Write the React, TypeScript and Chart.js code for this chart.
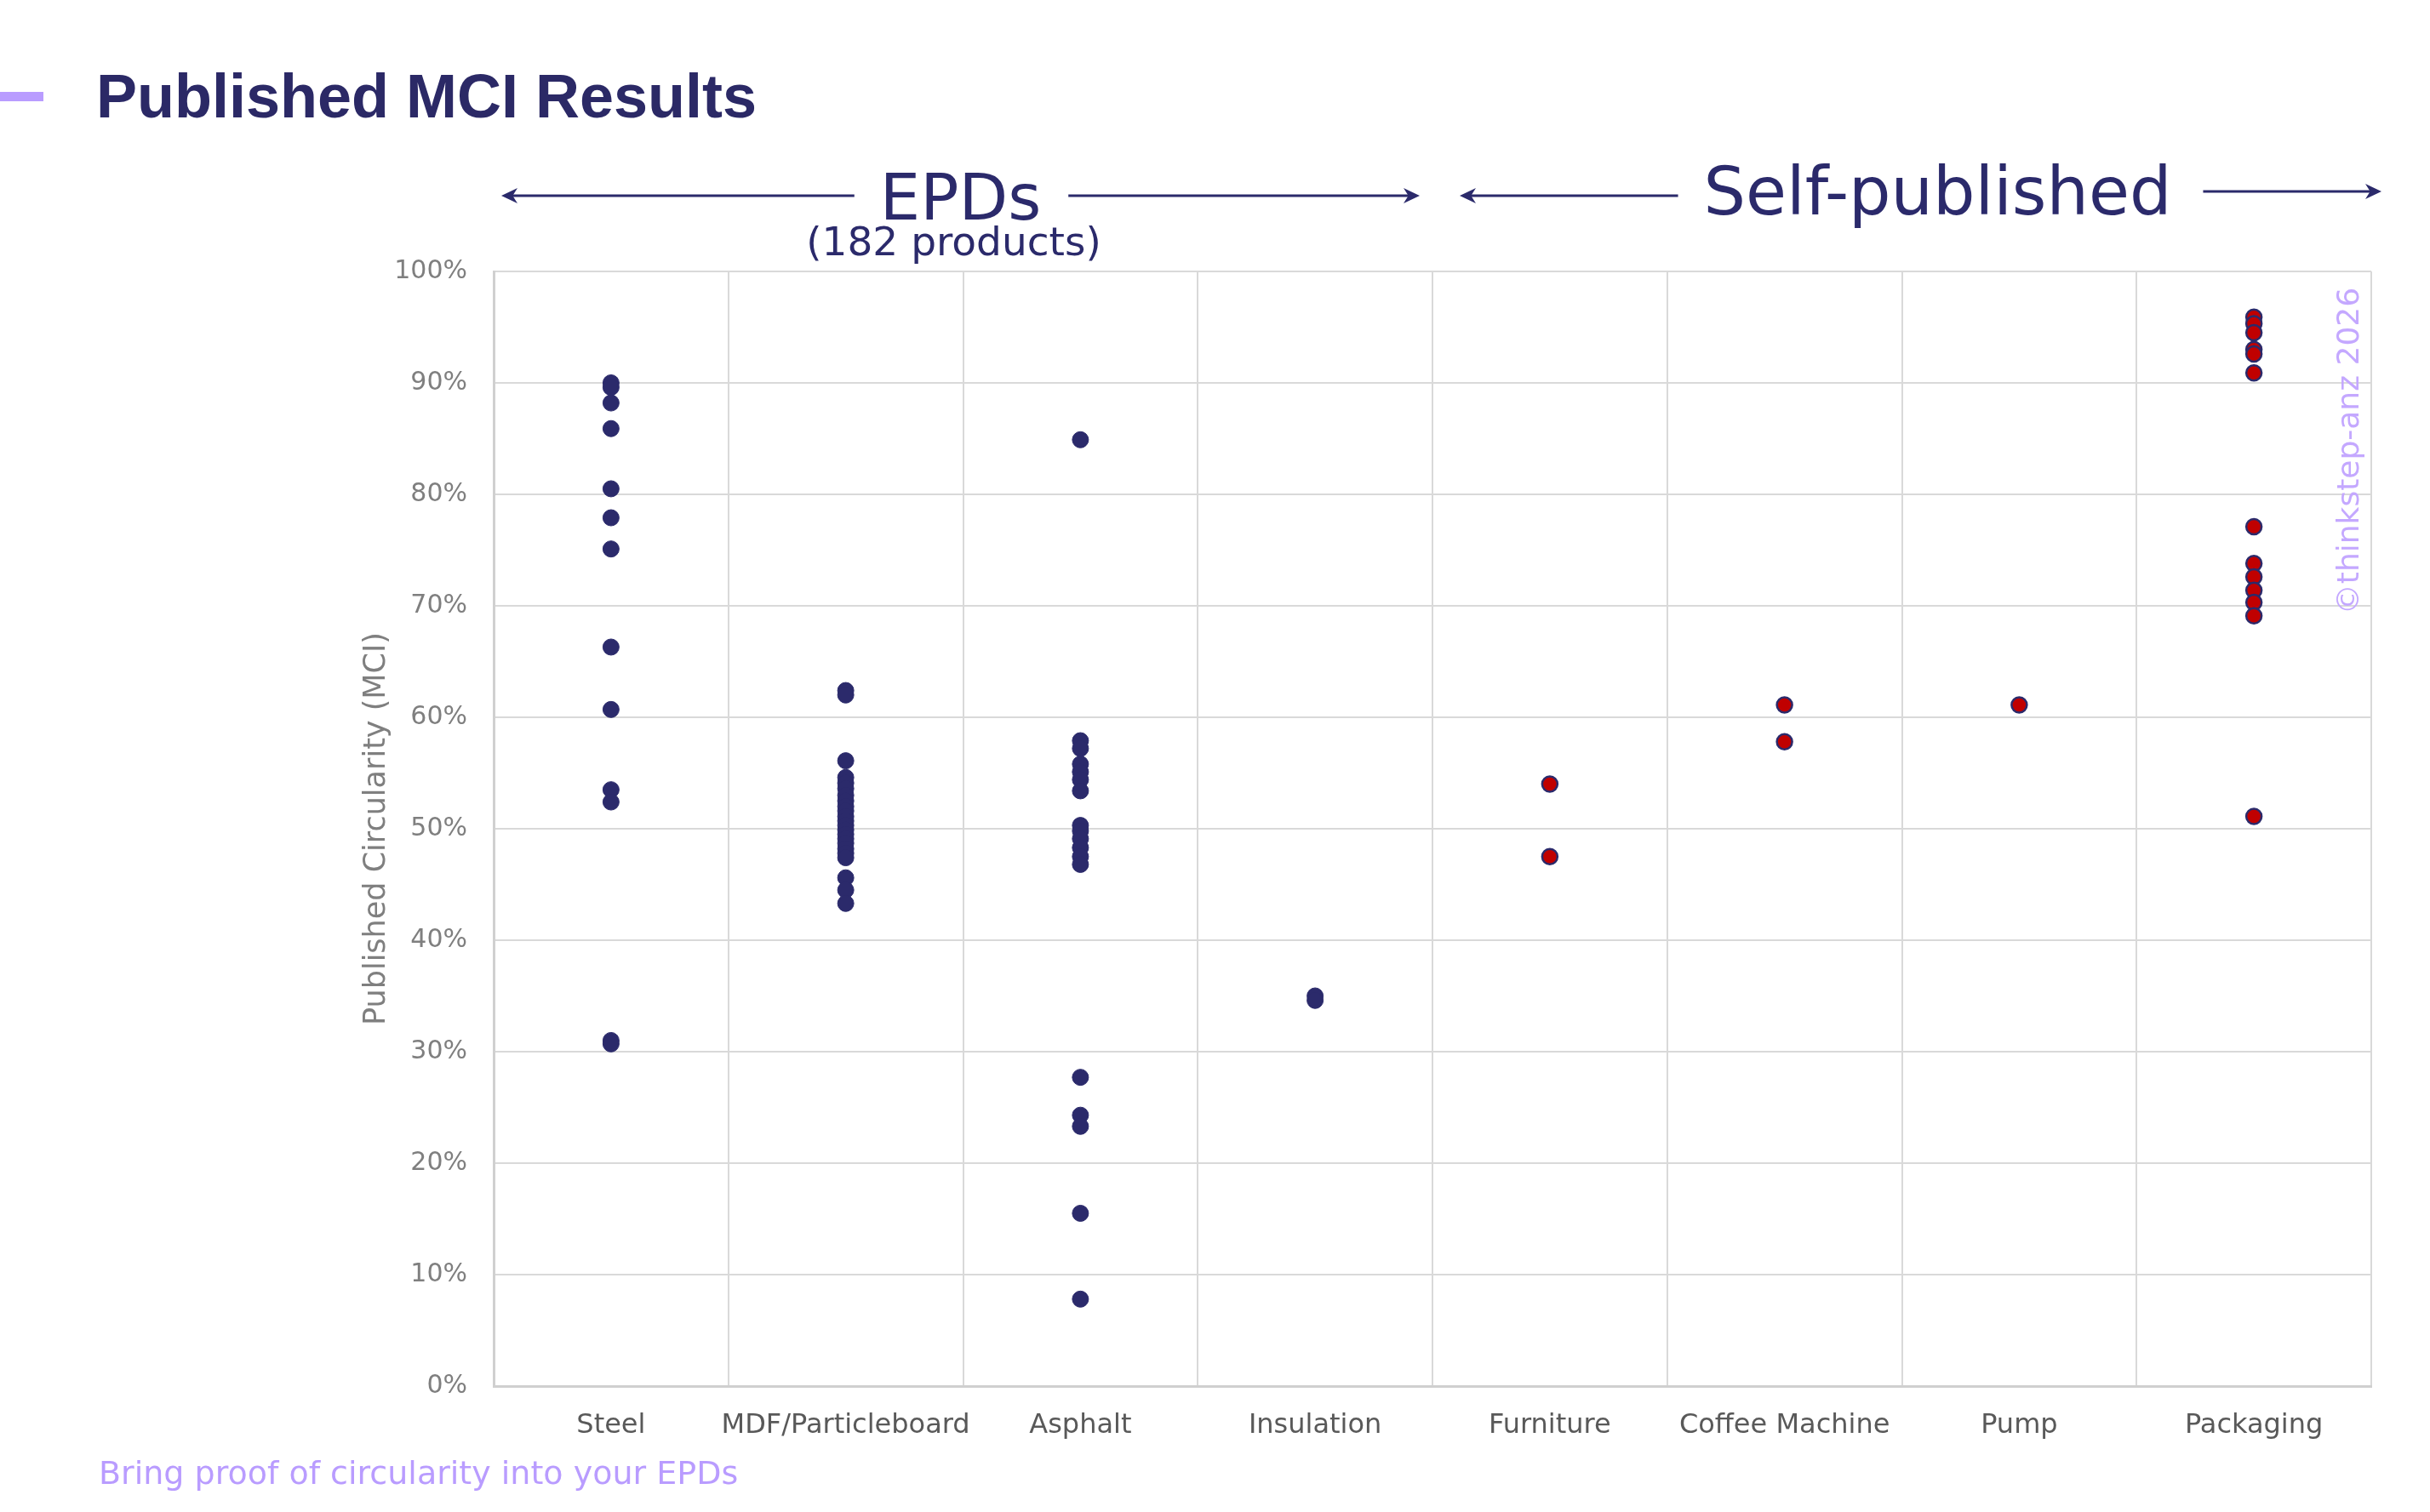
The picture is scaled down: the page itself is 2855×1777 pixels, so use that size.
import React, { useEffect, useRef } from "react";
import { Chart, registerables } from "chart.js";

Chart.register(...registerables);

// ---- data ----
const categories = ["Steel", "MDF/Particleboard", "Asphalt", "Insulation", "Furniture", "Coffee Machine", "Pump", "Packaging"];

// EPD-based categories (MCI, %)
const steelValues = [90.0, 89.6, 88.2, 85.9, 80.5, 77.9, 75.1, 66.3, 60.7, 53.5, 52.4, 31.0, 30.7];
const mdfValues = [62.4, 62.0, 56.1, 54.6, 54.1, 53.6, 53.0, 52.5, 52.0, 51.6, 51.1, 50.7, 50.3, 49.9, 49.5, 49.1, 48.7, 48.2, 47.8, 47.4, 45.6, 44.5, 43.3];
const asphaltValues = [84.9, 57.9, 57.2, 55.8, 55.1, 54.4, 53.4, 50.3, 49.8, 49.1, 48.3, 47.5, 46.8, 27.7, 24.3, 23.3, 15.5, 7.8];
const insulationValues = [35.0, 34.6];

// Self-published categories (MCI, %)
const furnitureValues = [54.0, 47.5];
const coffeeMachineValues = [61.1, 57.8];
const pumpValues = [61.1];
const packagingValues = [95.9, 95.3, 94.5, 93.0, 92.6, 90.9, 77.1, 73.8, 72.6, 71.4, 70.3, 69.1, 51.1];

const yTickStep = 10;
const yMin = 0;
const yMax = 100;

const epdHeader = "EPDs";
const epdSubHeader = "(182 products)";
const selfHeader = "Self-published";
const watermark = "\u00A9thinkstep-anz 2026";

// ---- styles ----
const NAVY = "#2b2a6b";
const RED = "#c00000";
const GRID = "#d9d9d9";
const FONT = "'DejaVu Sans', sans-serif";

const toPoints = (cat: string, vals: number[]) => vals.map((v) => ({ x: cat, y: v }));

const epdPoints = [
  ...toPoints(categories[0], steelValues),
  ...toPoints(categories[1], mdfValues),
  ...toPoints(categories[2], asphaltValues),
  ...toPoints(categories[3], insulationValues),
];
const selfPoints = [
  ...toPoints(categories[4], furnitureValues),
  ...toPoints(categories[5], coffeeMachineValues),
  ...toPoints(categories[6], pumpValues),
  ...toPoints(categories[7], packagingValues),
];

function drawArrowSeg(ctx: CanvasRenderingContext2D, xFrom: number, xTip: number, y: number) {
  const dir = xTip > xFrom ? 1 : -1;
  const headLen = 19;
  const headHalf = 9;
  ctx.beginPath();
  ctx.moveTo(xFrom, y);
  ctx.lineTo(xTip - dir * headLen * 0.6, y);
  ctx.stroke();
  ctx.beginPath();
  ctx.moveTo(xTip, y);
  ctx.lineTo(xTip - dir * headLen, y - headHalf);
  ctx.lineTo(xTip - dir * headLen * 0.7, y);
  ctx.lineTo(xTip - dir * headLen, y + headHalf);
  ctx.closePath();
  ctx.fill();
}

const headerPlugin = {
  id: "groupHeaders",
  afterDraw(chart: any) {
    const { ctx, chartArea, scales } = chart;
    const xs = scales.x;
    const w = xs.getPixelForValue(1) - xs.getPixelForValue(0);
    const split = xs.getPixelForValue(3) + w / 2;
    ctx.save();
    ctx.strokeStyle = NAVY;
    ctx.fillStyle = NAVY;
    ctx.lineWidth = 3;

    // EPDs group
    const eL = chartArea.left + 9;
    const eR = split - 15;
    const eMid = (eL + eR) / 2;
    ctx.font = `75px ${FONT}`;
    ctx.textAlign = "center";
    ctx.textBaseline = "alphabetic";
    ctx.fillText(epdHeader, eMid, 258);
    const eW = ctx.measureText(epdHeader).width;
    drawArrowSeg(ctx, eMid - eW / 2 - 30, eL, 230);
    drawArrowSeg(ctx, eMid + eW / 2 + 32, eR, 230);
    ctx.font = `47px ${FONT}`;
    ctx.fillText(epdSubHeader, eMid - 8, 300);

    // Self-published group
    const sL = split + 32;
    const sR = chartArea.right + 12;
    const sMid = (sL + sR) / 2 + 20;
    ctx.font = `78px ${FONT}`;
    ctx.fillText(selfHeader, sMid, 252);
    const sW = ctx.measureText(selfHeader).width;
    drawArrowSeg(ctx, sMid - sW / 2 - 30, sL, 230);
    drawArrowSeg(ctx, sMid + sW / 2 + 37, sR, 225);

    // watermark
    ctx.fillStyle = "#c4a8ff";
    ctx.font = `36px ${FONT}`;
    ctx.translate(chartArea.right - 15, 530);
    ctx.rotate(-Math.PI / 2);
    ctx.textAlign = "center";
    ctx.fillText(watermark, 0, 0);
    ctx.restore();
  },
};

export default function App() {
  const ref = useRef<HTMLCanvasElement | null>(null);

  useEffect(() => {
    if (!ref.current) return;
    const chart = new Chart(ref.current, {
      type: "line",
      data: {
        labels: categories,
        datasets: [
          {
            label: "EPDs",
            data: epdPoints as any,
            showLine: false,
            pointRadius: 9.5,
            pointHoverRadius: 9.5,
            pointBackgroundColor: NAVY,
            pointBorderColor: NAVY,
            pointBorderWidth: 1,
          },
          {
            label: "Self-published",
            data: selfPoints as any,
            showLine: false,
            pointRadius: 9,
            pointHoverRadius: 9,
            pointBackgroundColor: RED,
            pointBorderColor: NAVY,
            pointBorderWidth: 2.5,
          },
        ],
      },
      options: {
        animation: false,
        responsive: false,
        events: [],
        layout: { padding: { left: 422, top: 319, right: 69, bottom: 0 } },
        plugins: { legend: { display: false }, tooltip: { enabled: false } },
        scales: {
          x: {
            type: "category",
            offset: true,
            grid: { offset: true, color: GRID, lineWidth: 2, drawTicks: false },
            border: { color: "#d0d0d0", width: 3 },
            ticks: {
              color: "#595959",
              font: { family: FONT, size: 32 },
              padding: 27,
              maxRotation: 0,
              autoSkip: false,
            },
            afterFit: (s: any) => {
              s.height = 148;
            },
          },
          y: {
            min: yMin,
            max: yMax,
            grid: { color: GRID, lineWidth: 2, drawTicks: false },
            border: { color: "#d0d0d0", width: 3 },
            ticks: {
              stepSize: yTickStep,
              color: "#7f7f7f",
              font: { family: FONT, size: 30 },
              padding: 31,
              callback: (v: any) => `${v}%`,
            },
            title: {
              display: true,
              text: "Published Circularity (MCI)",
              color: "#7f7f7f",
              font: { family: FONT, size: 35 },
              padding: 0,
            },
            afterFit: (s: any) => {
              s.width = 158;
            },
          },
        },
      },
      plugins: [headerPlugin],
    });
    return () => chart.destroy();
  }, []);

  return (
    <div style={{ position: "absolute", left: 0, top: 0, width: 2855, height: 1777, background: "#fff", overflow: "hidden" }}>
      <canvas ref={ref} width={2855} height={1777} style={{ position: "absolute", left: 0, top: 0, width: 2855, height: 1777 }} />
      <div style={{ position: "absolute", left: 0, top: 108, width: 51, height: 11, background: "#b99cff" }} />
      <div
        style={{
          position: "absolute",
          left: 113,
          top: 77,
          fontFamily: "'Liberation Sans', Arial, sans-serif",
          fontWeight: 700,
          fontSize: 72,
          lineHeight: "72px",
          color: "#2b2966",
          whiteSpace: "nowrap",
        }}
      >
        Published MCI Results
      </div>
      <div
        style={{
          position: "absolute",
          left: 116,
          top: 1712,
          fontFamily: FONT,
          fontSize: 38,
          lineHeight: "38px",
          color: "#b99cff",
          whiteSpace: "nowrap",
        }}
      >
        Bring proof of circularity into your EPDs
      </div>
    </div>
  );
}
